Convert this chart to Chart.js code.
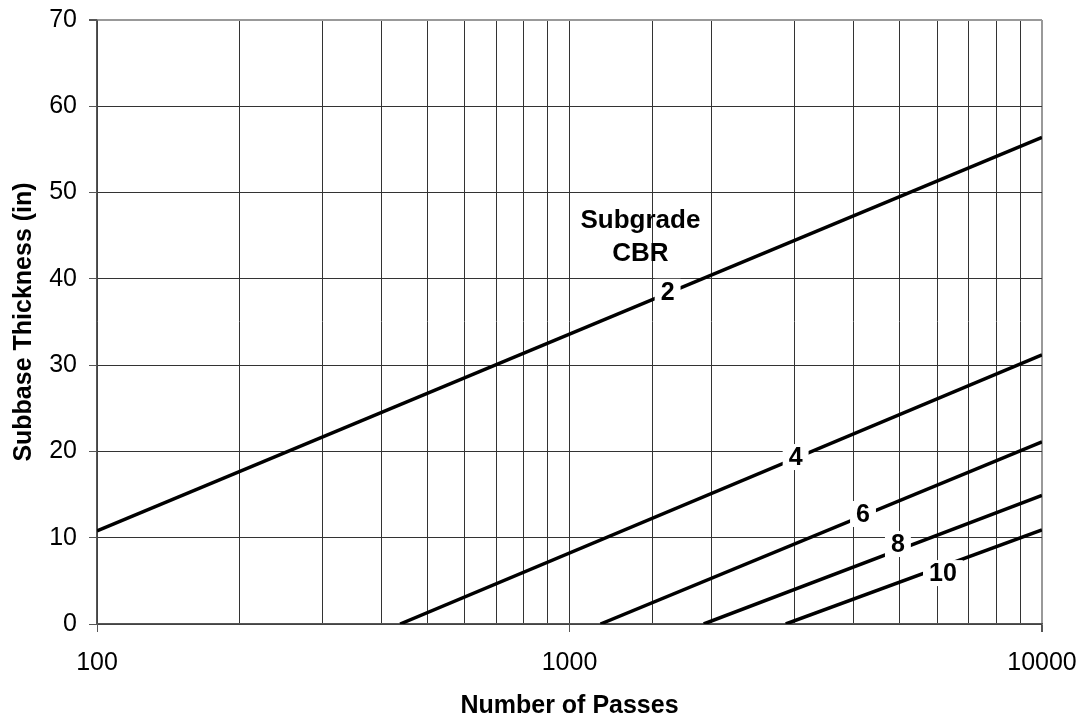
<!DOCTYPE html>
<html>
<head>
<meta charset="utf-8">
<script src="https://cdn.jsdelivr.net/npm/chart.js@4/dist/chart.umd.min.js"></script>
<style>
  html, body { margin: 0; padding: 0; background: #fff; }
  #wrap { width: 1086px; height: 721px; }
</style>
</head>
<body>
<div id="wrap"><canvas id="chart"></canvas></div>
<script>
// Subgrade CBR curves (end points, straight in log-x)
const cbr2X = [100, 10000],  cbr2Y = [10.8, 56.4];
const cbr4X = [438, 10000],  cbr4Y = [0, 31.2];
const cbr6X = [1163, 10000], cbr6Y = [0, 21.1];
const cbr8X = [1923, 10000], cbr8Y = [0, 14.9];
const cbr10X = [2868, 10000], cbr10Y = [0, 10.9];

const cbrNames = ["2", "4", "6", "8", "10"];
const labelX = [1613, 3010, 4180, 4955, 6170];
const labelY = [38.5, 19.35, 12.75, 9.27, 5.9];

const yTicks = [0, 10, 20, 30, 40, 50, 60, 70];

const FONT = "'Liberation Sans', Arial, sans-serif";

function pts(xs, ys){
    return xs.map((x, i) => ({ x: x, y: ys[i] }));
}

function lineSet(name, xs, ys){
    return {
        label: "CBR " + name,
        data: pts(xs, ys),
        showLine: true,
        borderColor: "#000",
        borderWidth: 3.5,
        pointRadius: 0,
        fill: false
    };
}

// labels on the curves + "Subgrade CBR" note
const curveLabels = {
    id: "curveLabels",
    afterDatasetsDraw(chart){
        const ctx = chart.ctx;
        const xs = chart.scales.x, ys = chart.scales.y;
        ctx.save();
        ctx.textAlign = "center";
        ctx.textBaseline = "middle";
        ctx.font = "bold 25px " + FONT;
        cbrNames.forEach((t, i) => {
            const px = xs.getPixelForValue(labelX[i]);
            const py = ys.getPixelForValue(labelY[i]);
            const w = ctx.measureText(t).width + 12;
            ctx.fillStyle = "#fff";
            ctx.fillRect(px - w / 2, py - 13, w, 26);
            ctx.fillStyle = "#000";
            ctx.fillText(t, px, py + 1);
        });
        ctx.font = "bold 26px " + FONT;
        const nx = xs.getPixelForValue(1413);
        ctx.fillText("Subgrade", nx, ys.getPixelForValue(46.7));
        ctx.fillText("CBR", nx, ys.getPixelForValue(42.9));
        ctx.restore();
    }
};

new Chart(document.getElementById("chart"), {
    type: "scatter",
    data: {
        datasets: [
            lineSet("2", cbr2X, cbr2Y),
            lineSet("4", cbr4X, cbr4Y),
            lineSet("6", cbr6X, cbr6Y),
            lineSet("8", cbr8X, cbr8Y),
            lineSet("10", cbr10X, cbr10Y)
        ]
    },
    options: {
        responsive: true,
        maintainAspectRatio: false,
        animation: false,
        layout: { padding: { top: 20, right: 44, left: 0, bottom: 0 } },
        plugins: { legend: { display: false }, tooltip: { enabled: false } },
        scales: {
            x: {
                type: "logarithmic",
                min: 100,
                max: 10000,
                afterFit(s){ s.height = 97; s.paddingLeft = 0; s.paddingRight = 0; },
                grid: {
                    color: (c) => (c.tick && c.tick.value === 10000) ? "#999" : "#333",
                    lineWidth: (c) => (c.tick && c.tick.value === 10000) ? 2 : 1,
                    tickLength: 8,
                    tickColor: (c) => {
                        const v = c.tick ? c.tick.value : 0;
                        return Number.isInteger(Math.log10(v)) ? "#555" : "rgba(0,0,0,0)";
                    }
                },
                border: { color: "#555", width: 1.5 },
                ticks: {
                    autoSkip: false,
                    maxRotation: 0,
                    padding: 16,
                    color: "#000",
                    font: { family: FONT, size: 25 },
                    callback: (v) => Number.isInteger(Math.log10(v)) ? String(v) : ""
                },
                title: {
                    display: true,
                    text: "Number of Passes",
                    color: "#000",
                    font: { family: FONT, size: 25, weight: "bold" },
                    padding: { top: 0, bottom: 0 }
                }
            },
            y: {
                min: 0,
                max: 70,
                afterFit(s){ s.width = 97; s.paddingTop = 0; s.paddingBottom = 0; },
                afterBuildTicks(s){ s.ticks = yTicks.map(v => ({ value: v })); },
                grid: {
                    color: (c) => (c.tick && c.tick.value === 70) ? "#999" : "#333",
                    lineWidth: (c) => (c.tick && c.tick.value === 70) ? 2 : 1,
                    tickLength: 8,
                    tickColor: "#555"
                },
                border: { color: "#555", width: 1.5 },
                ticks: {
                    padding: 12,
                    color: "#000",
                    font: { family: FONT, size: 25 }
                },
                title: {
                    display: true,
                    text: "Subbase Thickness (in)",
                    color: "#000",
                    font: { family: FONT, size: 25, weight: "bold" },
                    padding: { top: 9, bottom: 0 }
                }
            }
        }
    },
    plugins: [curveLabels]
});
</script>
</body>
</html>
